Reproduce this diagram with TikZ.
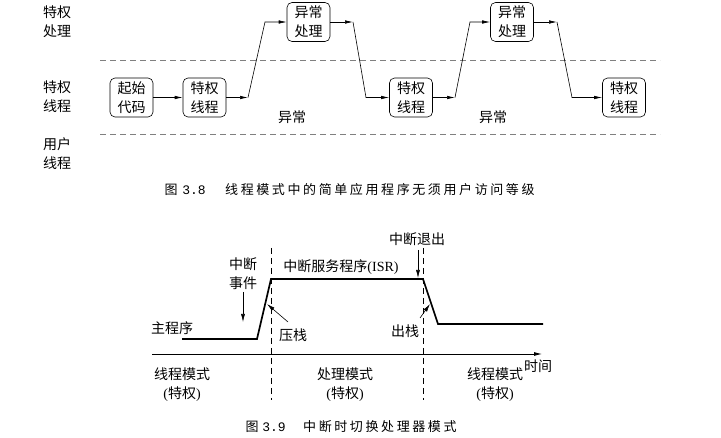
\documentclass[tikz,border=0pt]{standalone}
\usepackage{fontspec}
\setmainfont{Noto Sans CJK SC}
\newfontfamily\serifL{Liberation Serif}
\newfontfamily\monoL{Liberation Mono}
\newfontfamily\capfont[LetterSpace=20]{Noto Sans CJK SC}
\usetikzlibrary{arrows.meta}
\begin{document}
\begin{tikzpicture}[x=1pt,y=-1pt,
  lab/.style={font=\fontsize{14}{19}\selectfont, align=center, inner sep=0pt},
  capt/.style={font=\capfont\fontsize{13}{13}\selectfont, inner sep=0pt},
  capn/.style={font=\fontsize{13}{13}\selectfont, inner sep=0pt},
  capm/.style={font=\monoL\fontsize{13}{13}\selectfont, inner sep=0pt},
  box/.style={draw, line width=0.6pt, rounded corners=5pt, minimum width=43pt, minimum height=39pt, inner sep=0pt, lab},
  arr/.style={-{Latex[length=8pt,width=3.5pt]}, line width=0.6pt},
  sep/.style={gray, dash pattern=on 6pt off 4pt, line width=0.9pt},
  vdash/.style={black, dash pattern=on 6pt off 4pt, line width=0.6pt},
  prog/.style={line width=1.7pt, line join=miter},
  pin/.style={-{Latex[length=8pt,width=4pt]}, line width=0.6pt}]
\useasboundingbox (0,0) rectangle (721,438);
% ---------- Figure 3.8 ----------
\node[lab] (l1) at (57,22) {特权\\处理};
\node[lab] (l2) at (57,97) {特权\\线程};
\node[lab] (l3) at (57,154) {用户\\线程};
\coordinate (d1a) at (100,60); \coordinate (d1b) at (660,60);
\coordinate (d2a) at (100,134); \coordinate (d2b) at (660,134);
\draw[sep] (d1a) -- (d1b);
\draw[sep] (d2a) -- (d2b);
\node[box] (s) at (131.5,97.5) {起始\\代码};
\node[box] (t1) at (204.5,97.5) {特权\\线程};
\node[box] (e1) at (308.5,22) {异常\\处理};
\node[box] (t2) at (411,97.5) {特权\\线程};
\node[box] (e2) at (512,22) {异常\\处理};
\node[box] (t3) at (624,97.5) {特权\\线程};
\coordinate (c1) at (248,97.5); \coordinate (c2) at (265,22);
\coordinate (c3) at (353,22); \coordinate (c4) at (366,97.5);
\coordinate (c5) at (455,97.5); \coordinate (c6) at (470,22);
\coordinate (c7) at (557,22); \coordinate (c8) at (572,97.5);
\draw[arr] (s) -- (t1);
\draw[arr] (t1) -- (c1);
\draw[arr] (c1) -- (c2) -- (e1);
\draw[arr] (e1) -- (c3);
\draw[arr] (c3) -- (c4) -- (t2);
\draw[arr] (t2) -- (c5);
\draw[arr] (c5) -- (c6) -- (e2);
\draw[arr] (e2) -- (c7);
\draw[arr] (c7) -- (c8) -- (t3);
\node[lab] (x1) at (292,117) {异常};
\node[lab] (x2) at (493,117) {异常};
\node[capn] (cap1a) at (171,190) {图};
\node[capm] (cap1b) at (194,190) {3.8};
\node[capt, anchor=west] (cap1c) at (225,190) {线程模式中的简单应用程序无须用户访问等级};
% ---------- Figure 3.9 ----------
\node[lab] (mp) at (172,328) {主程序};
\coordinate (m1) at (182,339); \coordinate (m2) at (257,339);
\coordinate (m3) at (271,279); \coordinate (m4) at (423,279);
\coordinate (m5) at (438,324); \coordinate (m6) at (543,324);
\draw[prog] (m1) -- (m2) -- (m3) -- (m4) -- (m5) -- (m6);
\coordinate (v1a) at (271,248); \coordinate (v1b) at (271,400);
\coordinate (v2a) at (423,248); \coordinate (v2b) at (423,400);
\draw[vdash] (v1a) -- (v1b);
\draw[vdash] (v2a) -- (v2b);
\coordinate (ax1) at (152,354); \coordinate (ax2) at (542,354);
\draw[-{Latex[length=8pt,width=4pt]}, line width=0.8pt] (ax1) -- (ax2);
\node[lab] (tm) at (538,366) {时间};
\node[lab] (ie) at (243,274) {中断\\事件};
\coordinate (iea) at (243,292); \coordinate (ieb) at (243,322);
\draw[pin] (iea) -- (ieb);
\node[lab] (isr) at (341,267) {中断服务程序{\serifL(ISR)}};
\node[lab] (ix) at (417,239) {中断退出};
\coordinate (ixa) at (418,250); \coordinate (ixb) at (418,278);
\draw[pin] (ixa) -- (ixb);
\node[lab] (push) at (293,335) {压栈};
\coordinate (pa) at (288,322); \coordinate (pb) at (267,304);
\draw[pin] (pa) -- (pb);
\node[lab] (pop) at (405,331) {出栈};
\coordinate (qa) at (420,318); \coordinate (qb) at (430,304);
\draw[pin] (qa) -- (qb);
\node[lab] (md1) at (182,385) {线程模式\\{\serifL(}特权{\serifL)}};
\node[lab] (md2) at (345,385) {处理模式\\{\serifL(}特权{\serifL)}};
\node[lab] (md3) at (495,385) {线程模式\\{\serifL(}特权{\serifL)}};
\node[capn] (cap2a) at (252,427) {图};
\node[capm] (cap2b) at (274,427) {3.9};
\node[capt, anchor=west] (cap2c) at (303,427) {中断时切换处理器模式};
\end{tikzpicture}
\end{document}
